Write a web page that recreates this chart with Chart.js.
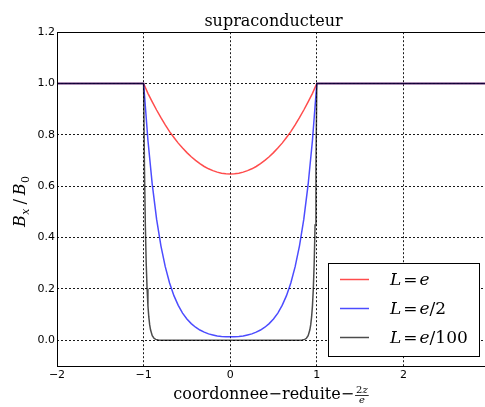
<!DOCTYPE html>
<html><head><meta charset="utf-8">
<script src="https://cdn.jsdelivr.net/npm/chart.js@4.4.1/dist/chart.umd.min.js"></script>
<style>html,body{margin:0;padding:0;overflow:hidden;background:#fff;width:485px;height:407px}canvas{display:block}</style>
</head><body><canvas id="c" width="500" height="407"></canvas>
<script>
const chartTitle = 'supraconducteur';
const xTicks = [-2, -1, 0, 1, 2];
const yTicks = [0, 0.2, 0.4, 0.6, 0.8, 1.0, 1.2];
const seriesNames = ['L=e', 'L=e/2', 'L=e/100'];
const seriesColors = ['rgba(255,0,0,0.7)', 'rgba(0,0,255,0.7)', 'rgba(0,0,0,0.7)'];

// reduced coordinate (shared by the L=e and L=e/2 curves)
const xCommon = [-2, -1, -0.95, -0.9, -0.85, -0.8, -0.75, -0.7, -0.65, -0.6, -0.55, -0.5, -0.45, -0.4, -0.35, -0.3, -0.25, -0.2, -0.15, -0.1, -0.05,
  0, 0.05, 0.1, 0.15, 0.2, 0.25, 0.3, 0.35, 0.4, 0.45, 0.5, 0.55, 0.6, 0.65, 0.7, 0.75, 0.8, 0.85, 0.9, 0.95, 1, 3];
const yRed = [1, 1, 0.962, 0.929, 0.897, 0.867, 0.839, 0.813, 0.790, 0.768, 0.749, 0.731, 0.715, 0.701, 0.688, 0.677, 0.668, 0.661, 0.655, 0.651, 0.649,
  0.648, 0.649, 0.651, 0.655, 0.661, 0.668, 0.677, 0.688, 0.701, 0.715, 0.731, 0.749, 0.768, 0.790, 0.813, 0.839, 0.867, 0.897, 0.929, 0.962, 1, 1];
const yBlue = [1, 1, 0.779, 0.607, 0.472, 0.368, 0.287, 0.223, 0.174, 0.136, 0.106, 0.083, 0.065, 0.051, 0.040, 0.032, 0.025, 0.021, 0.017, 0.015, 0.014,
  0.0135, 0.014, 0.015, 0.017, 0.021, 0.025, 0.032, 0.040, 0.051, 0.065, 0.083, 0.106, 0.136, 0.174, 0.223, 0.287, 0.368, 0.472, 0.607, 0.779, 1, 1];
// L=e/100 curve
const xBlack = [-2, -1, -0.99, -0.98, -0.97, -0.96, -0.95, -0.94, -0.93, -0.92, -0.9, -0.88, -0.86, -0.83, -0.8, -0.7,
  0, 0.7, 0.8, 0.83, 0.86, 0.88, 0.9, 0.92, 0.93, 0.94, 0.95, 0.96, 0.97, 0.98, 0.99, 1, 3];
const yBlack = [1, 1, 0.670, 0.449, 0.301, 0.202, 0.135, 0.091, 0.061, 0.041, 0.018, 0.008, 0.0037, 0.0011, 0.0003, 0,
  0, 0, 0.0003, 0.0011, 0.0037, 0.008, 0.018, 0.041, 0.061, 0.091, 0.135, 0.202, 0.301, 0.449, 0.670, 1, 1];

const toPts = (xs, ys) => xs.map((x, i) => ({x: x, y: ys[i]}));

function drawMath(ctx, s, x, y, size) {
  for (const ch of s) {
    if (ch === '=') {
      x += 2;
      ctx.font = size + 'px "DejaVu Serif"';
      ctx.fillText('=', x, y);
      x += ctx.measureText('=').width + 2;
      continue;
    }
    const italic = /[A-Za-z]/.test(ch);
    ctx.font = (italic ? 'italic ' : '') + size + 'px "DejaVu Serif"';
    ctx.fillText(ch, x, y);
    x += ctx.measureText(ch).width;
  }
  return x;
}

const decor = {
  id: 'decor',
  afterDatasetsDraw(chart) {
    const ctx = chart.ctx, a = chart.chartArea;
    ctx.save();
    // frame
    ctx.strokeStyle = '#000';
    ctx.lineWidth = 1;
    ctx.strokeRect(Math.round(a.left) + 0.5, Math.round(a.top) + 0.5, Math.round(a.right - a.left), Math.round(a.bottom - a.top));
    // legend box
    const w = 151, h = 93;
    const L = Math.round(a.right - 11 - w), T = Math.round(a.bottom - 10 - h);
    ctx.fillStyle = '#fff';
    ctx.fillRect(L, T, w, h);
    ctx.strokeRect(L + 0.5, T + 0.5, w, h);
    seriesNames.forEach((name, i) => {
      const y = T + 16 + i * 29;
      ctx.strokeStyle = seriesColors[i];
      ctx.lineWidth = 1.5;
      ctx.beginPath();
      ctx.moveTo(L + 12, y + 0.5);
      ctx.lineTo(L + 41, y + 0.5);
      ctx.stroke();
      ctx.fillStyle = '#000';
      ctx.textBaseline = 'alphabetic';
      ctx.textAlign = 'left';
      drawMath(ctx, name, L + 62, y + 6, 17);
    });
    ctx.restore();
  },
  afterDraw(chart) {
    const ctx = chart.ctx, a = chart.chartArea;
    ctx.save();
    ctx.fillStyle = '#000';
    ctx.textBaseline = 'alphabetic';
    ctx.textAlign = 'left';
    // x axis label
    const main = 'coordonnee\u2212reduite\u2212';
    ctx.font = '16px "DejaVu Serif"';
    const w1 = ctx.measureText(main).width;
    ctx.font = '10px "DejaVu Serif"';
    const w2 = ctx.measureText('2').width;
    ctx.font = 'italic 10px "DejaVu Serif"';
    const wz = ctx.measureText('z').width, we = ctx.measureText('e').width;
    const fw = w2 + wz + 2;
    const total = w1 + 1 + fw;
    const cx = (a.left + a.right) / 2 - 2.5;
    let x0 = cx - total / 2;
    const base = 399;
    ctx.font = '16px "DejaVu Serif"';
    ctx.fillText(main, x0, base);
    let fx = x0 + w1 + 1;
    ctx.font = '10px "DejaVu Serif"';
    ctx.fillText('2', fx + 1, base - 6);
    ctx.font = 'italic 10px "DejaVu Serif"';
    ctx.fillText('z', fx + 1 + w2, base - 6);
    ctx.fillRect(fx, base - 4, fw, 0.8);
    ctx.fillText('e', fx + (fw - we) / 2, base + 4);
    // y axis label
    ctx.translate(25, 227);
    ctx.rotate(-Math.PI / 2);
    let px = 0;
    ctx.font = 'italic 16px "DejaVu Serif"';
    ctx.fillText('B', px, 0); px += ctx.measureText('B').width + 0.5;
    ctx.font = 'italic 11px "DejaVu Serif"';
    ctx.fillText('x', px, 4); px += ctx.measureText('x').width + 4;
    ctx.font = '16px "DejaVu Serif"';
    ctx.fillText('/', px, 0); px += ctx.measureText('/').width + 4;
    ctx.font = 'italic 16px "DejaVu Serif"';
    ctx.fillText('B', px, 0); px += ctx.measureText('B').width + 0.5;
    ctx.font = '11px "DejaVu Serif"';
    ctx.fillText('0', px, 4);
    ctx.restore();
  }
};

const fmt = v => (v < 0 ? '\u2212' + Math.abs(v) : String(v));

new Chart(document.getElementById('c'), {
  type: 'line',
  data: {
    datasets: [
      {label: seriesNames[0], data: toPts(xCommon, yRed), borderColor: seriesColors[0], order: 3},
      {label: seriesNames[1], data: toPts(xCommon, yBlue), borderColor: seriesColors[1], order: 2},
      {label: seriesNames[2], data: toPts(xBlack, yBlack), borderColor: seriesColors[2], order: 1}
    ]
  },
  options: {
    responsive: false,
    devicePixelRatio: 1,
    animation: false,
    layout: {padding: {left: 0, right: 10, top: 0, bottom: 0}},
    elements: {
      line: {borderWidth: 1.5, tension: 0, fill: false},
      point: {radius: 0, hoverRadius: 0}
    },
    plugins: {
      legend: {display: false},
      tooltip: {enabled: false},
      title: {
        display: true,
        text: chartTitle,
        fullSize: false,
        color: '#000',
        font: {family: 'DejaVu Serif', size: 16, weight: 'normal', lineHeight: 1.2},
        padding: {top: 12, bottom: 1}
      }
    },
    scales: {
      x: {
        type: 'linear',
        min: -2, max: 3,
        afterBuildTicks: s => { s.ticks = xTicks.map(v => ({value: v})); },
        afterFit: s => { s.height = 41; },
        ticks: {color: '#000', font: {family: 'DejaVu Sans', size: 11}, padding: 3, maxRotation: 0, callback: v => fmt(v)},
        grid: {color: 'rgba(0,0,0,0.9)', lineWidth: 1, drawTicks: false, tickLength: 0},
        border: {display: false, dash: [2, 2]}
      },
      y: {
        type: 'linear',
        min: -0.1, max: 1.2,
        afterBuildTicks: s => { s.ticks = yTicks.map(v => ({value: v})); },
        afterFit: s => { s.width = 57; },
        ticks: {color: '#000', font: {family: 'DejaVu Sans', size: 11}, padding: 2, callback: v => v.toFixed(1)},
        grid: {color: 'rgba(0,0,0,0.9)', lineWidth: 1, drawTicks: false, tickLength: 0},
        border: {display: false, dash: [2, 2]}
      }
    }
  },
  plugins: [decor]
});
</script>
</body></html>
